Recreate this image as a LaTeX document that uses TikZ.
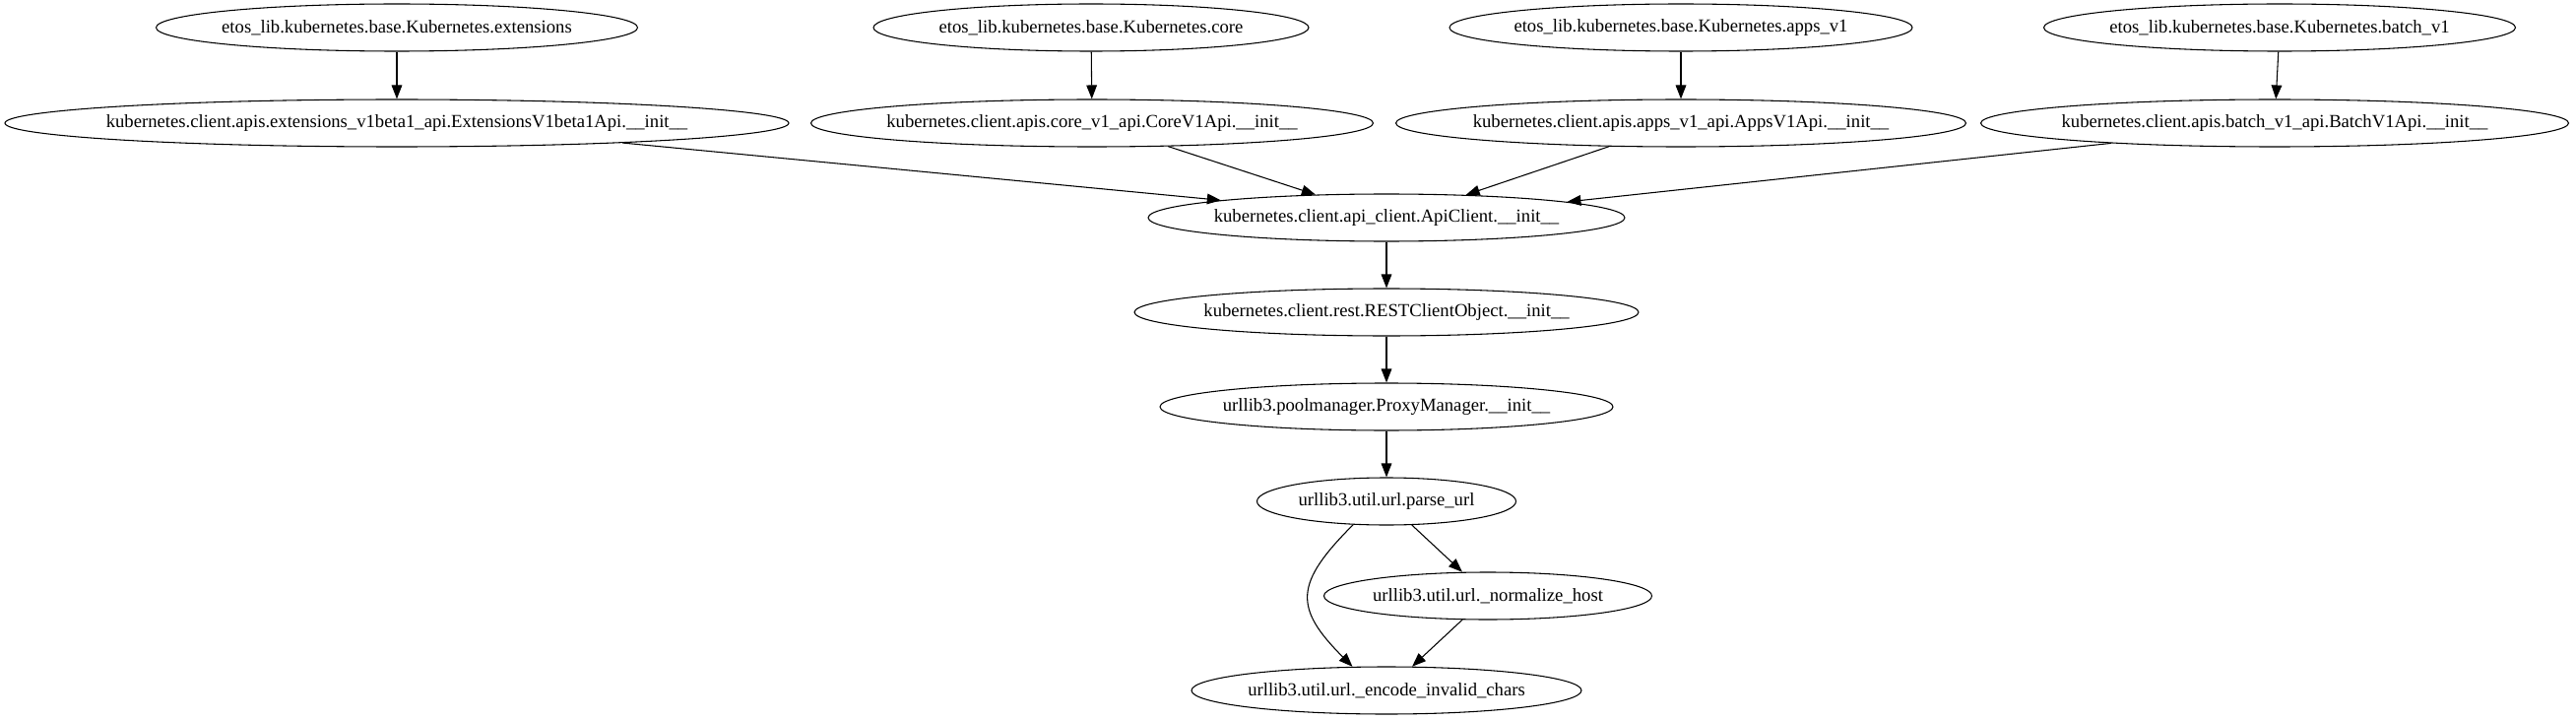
\documentclass[tikz,border=0pt]{standalone}
\usepackage{fontspec}
\setmainfont{Liberation Serif}
\usetikzlibrary{shapes.geometric, arrows.meta}

\begin{document}
\begin{tikzpicture}[x=0.75pt, y=0.75pt, font=\fontsize{14pt}{16pt}\selectfont,
			llamada/.style={ellipse, draw, line width=0.8pt, inner xsep=-30pt, inner ysep=0pt,
			                minimum height=36pt, minimum width=#1},
			flecha/.style={-{Triangle[length=10.5pt, width=8pt]}, line width=0.8pt}]
			\useasboundingbox (0,0) rectangle (2616,-731);
			% fila de arriba
			\node[llamada=366.75pt] (extensiones) at (403,-28) {etos\_lib.kubernetes.base.Kubernetes.extensions};
			\node[llamada=331.5pt] (nucleo) at (1108,-28) {etos\_lib.kubernetes.base.Kubernetes.core};
			\node[llamada=352.5pt] (apps) at (1707,-28) {etos\_lib.kubernetes.base.Kubernetes.apps\_v1};
			\node[llamada=359.25pt] (lotes) at (2315,-28) {etos\_lib.kubernetes.base.Kubernetes.batch\_v1};
			\node[llamada=597pt] (apiextensiones) at (403,-125)
				{kubernetes.client.apis.extensions\_v1beta1\_api.ExtensionsV1beta1Api.\_\_init\_\_};
			\node[llamada=428.25pt] (apinucleo) at (1109,-125)
				{kubernetes.client.apis.core\_v1\_api.CoreV1Api.\_\_init\_\_};
			\node[llamada=434.25pt] (apiapps) at (1707,-125)
				{kubernetes.client.apis.apps\_v1\_api.AppsV1Api.\_\_init\_\_};
			\node[llamada=447.75pt] (apilotes) at (2310,-125)
				{kubernetes.client.apis.batch\_v1\_api.BatchV1Api.\_\_init\_\_};
			% columna central
			\node[llamada=363pt] (cliente) at (1408,-221) {kubernetes.client.api\_client.ApiClient.\_\_init\_\_};
			\node[llamada=384pt] (rest) at (1408,-317) {kubernetes.client.rest.RESTClientObject.\_\_init\_\_};
			\node[llamada=345pt] (proxy) at (1408,-413) {urllib3.poolmanager.ProxyManager.\_\_init\_\_};
			\node[llamada=197.25pt] (parseo) at (1408,-509) {urllib3.util.url.parse\_url};
			\node[llamada=249.75pt] (normaliza) at (1511,-605) {urllib3.util.url.\_normalize\_host};
			\node[llamada=297pt] (codifica) at (1408,-701) {urllib3.util.url.\_encode\_invalid\_chars};
			% conexiones
			\draw[flecha] (extensiones) -- (apiextensiones);
			\draw[flecha] (nucleo) -- (apinucleo);
			\draw[flecha] (apps) -- (apiapps);
			\draw[flecha] (lotes) -- (apilotes);
			\draw[flecha] (apiextensiones.-5.62) -- (cliente.174.46);
			\draw[flecha] (apinucleo.-17.63) -- (cliente.162.84);
			\draw[flecha] (apiapps.-162.34) -- (cliente.16.69);
			\draw[flecha] (apilotes.-173.44) -- (cliente.5.67);
			\draw[flecha] (cliente) -- (rest);
			\draw[flecha] (rest) -- (proxy);
			\draw[flecha] (proxy) -- (parseo);
			\draw[flecha] (parseo.-43.3) -- (normaliza.137.65);
			\draw[flecha] (normaliza.-137.65) -- (codifica.43.6);
			\draw[flecha] (parseo.-145.7) to[out=-135, in=135, looseness=1.5] (codifica.145.19);
		\end{tikzpicture}
\end{document}
